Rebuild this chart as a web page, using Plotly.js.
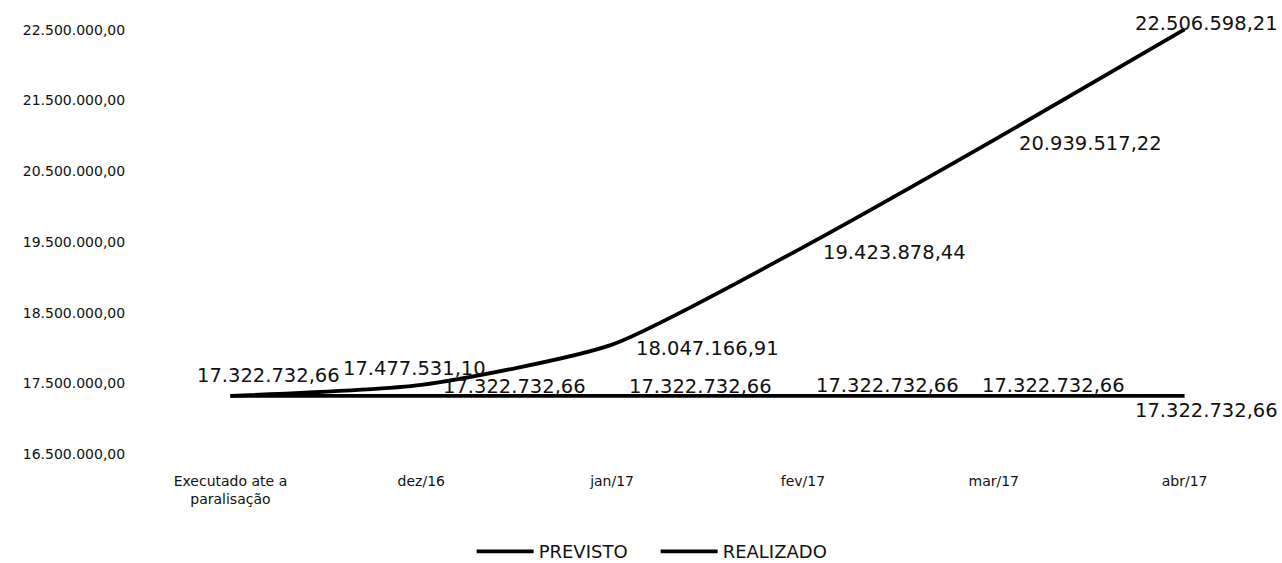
<!DOCTYPE html>
<html>
<head>
<meta charset="utf-8">
<script src="https://cdn.plot.ly/plotly-3.0.1.min.js"></script>
<style>html,body{margin:0;padding:0;background:#fff;}#chart{width:1282px;height:563px;}</style>
</head>
<body>
<div id="chart"></div>
<script>
// ---- data ----
const categories = ["Executado ate a<br>paralisação", "dez/16", "jan/17", "fev/17", "mar/17", "abr/17"];
const previsto = [17322732.66, 17477531.10, 18047166.91, 19423878.44, 20939517.22, 22506598.21];
const realizado = [17322732.66, 17322732.66, 17322732.66, 17322732.66, 17322732.66, 17322732.66];
const seriesNames = ["PREVISTO", "REALIZADO"];
const yTickVals = [16500000, 17500000, 18500000, 19500000, 20500000, 21500000, 22500000];

// ---- label placement (style, pixels) ----
const previstoShift = [[38, 20], [-7, 16], [95, -4], [92, -5], [97, -3], [22, 6]];
const realizadoShift = [null, [93, 9], [88, 9], [85, 10], [60, 10], [22, -15]];

function fmt(v) {
  const parts = v.toFixed(2).split(".");
  return parts[0].replace(/\B(?=(\d{3})+(?!\d))/g, ".") + "," + parts[1];
}

const labelFont = {family: "DejaVu Sans", size: 19.5, color: "#111"};
const annotations = [];
previsto.forEach((v, i) => {
  const s = previstoShift[i];
  annotations.push({x: categories[i], y: v, xref: "x", yref: "y", text: fmt(v), showarrow: false,
    xanchor: "center", yanchor: "middle", xshift: s[0], yshift: s[1], font: labelFont});
});
realizado.forEach((v, i) => {
  const s = realizadoShift[i];
  if (!s) return;
  annotations.push({x: categories[i], y: v, xref: "x", yref: "y", text: fmt(v), showarrow: false,
    xanchor: "center", yanchor: "middle", xshift: s[0], yshift: s[1], font: labelFont});
});

const traces = [
  {x: categories, y: previsto, name: seriesNames[0], type: "scatter", mode: "lines",
   line: {color: "#000", width: 3.8, shape: "spline", smoothing: 0.6}, cliponaxis: false},
  {x: categories, y: realizado, name: seriesNames[1], type: "scatter", mode: "lines",
   line: {color: "#000", width: 3.8}, cliponaxis: false}
];

const layout = {
  width: 1282, height: 563,
  margin: {l: 135, r: 2, t: 29, b: 109, autoexpand: false},
  paper_bgcolor: "#fff", plot_bgcolor: "#fff",
  separators: ",.",
  showlegend: true,
  legend: {orientation: "h", x: 0.294, xanchor: "left", y: -0.23, yanchor: "middle",
    font: {family: "DejaVu Sans", size: 18, color: "#111"}, itemwidth: 57, entrywidth: 112},
  xaxis: {type: "category", range: [-0.5, 5.5], showgrid: false, zeroline: false, showline: false,
    ticks: "outside", ticklen: 14, tickcolor: "rgba(0,0,0,0)",
    tickfont: {family: "DejaVu Sans", size: 14, color: "#111"}},
  yaxis: {range: [16500000, 22512000], tickvals: yTickVals, tickformat: ",.2f",
    showgrid: false, zeroline: false, showline: false,
    ticks: "outside", ticklen: 6, tickcolor: "rgba(0,0,0,0)",
    tickfont: {family: "DejaVu Sans", size: 14, color: "#111"}},
  annotations: annotations
};

Plotly.newPlot("chart", traces, layout, {displayModeBar: false, staticPlot: true});
</script>
</body>
</html>
